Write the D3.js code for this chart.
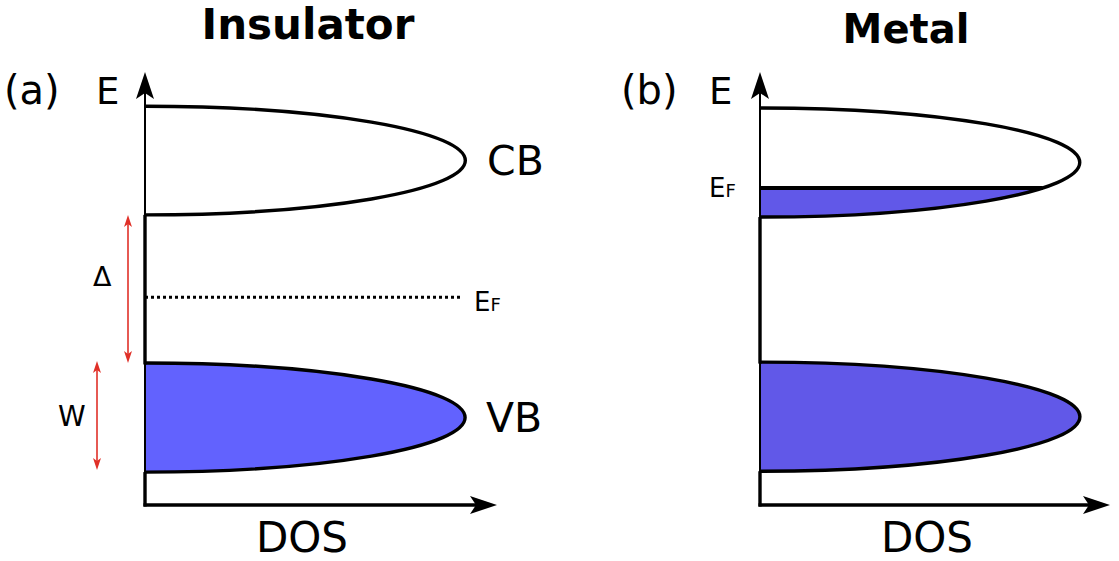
<!DOCTYPE html>
<html>
<head>
<meta charset="utf-8">
<script src="https://cdn.jsdelivr.net/npm/d3@7"></script>
<style>
  body { margin: 0; background: #fff; }
  text { font-family: "DejaVu Sans", sans-serif; }
</style>
</head>
<body>
<div id="chart"></div>
<script>
// energy axis runs 0..100, DOS axis 0..100
var panels = ["Insulator", "Metal"];
var panelTags = ["(a)", "(b)"];
var bandNames = ["VB", "CB"];
// [bottom, top] energy of each band, per panel
var insulatorBands = [[7.6, 32.8], [67.0, 92.1]];
var metalBands = [[7.8, 33.0], [66.5, 91.7]];
// maximum DOS reached by each band
var insulatorPeak = [91, 91];
var metalPeak = [91.4, 91.4];
var insulatorFermi = 48.0;
var fermiDotsEnd = 90;
var metalFermi = 73.2;

var W = 1119, H = 561;
var svg = d3.select("#chart").append("svg")
    .attr("width", W)
    .attr("height", H);

var y = d3.scaleLinear().domain([0, 100]).range([505, 72]);
var xL = d3.scaleLinear().domain([0, 100]).range([145, 497]);
var xR = d3.scaleLinear().domain([0, 100]).range([760, 1110]);

var fillL = "#6262fe", fillR = "#6158e8", red = "#e03028";

function arrowUp(x0, y0) {
    return "M" + x0 + "," + y0 + " l9,27 l-9,-6 l-9,6 z";
}
function arrowRight(x0, y0) {
    return "M" + x0 + "," + y0 + " l-27,-9 l6,9 l-6,9 z";
}
function redArrow(g, x0, y0, y1) {
    g.append("line").attr("x1", x0).attr("x2", x0).attr("y1", y0 + 4).attr("y2", y1 - 4)
        .attr("stroke", red).attr("stroke-width", 1.6);
    g.append("path").attr("d", "M" + x0 + "," + y0 + " l4,12 l-4,-3 l-4,3 z").attr("fill", red);
    g.append("path").attr("d", "M" + x0 + "," + y1 + " l4,-12 l-4,3 l-4,-3 z").attr("fill", red);
}

// half-ellipse outline of a band, open on the energy axis
function bandPath(x, band, peak) {
    var x0 = x(0), yb = y(band[0]), yt = y(band[1]);
    var rx = x(peak) - x0, ry = (yb - yt) / 2;
    return "M" + x0 + "," + yt + " A" + rx + "," + ry + " 0 0 1 " + x0 + "," + yb;
}

function drawAxes(g, x, bands) {
    var x0 = x(0);
    g.append("line").attr("x1", x0).attr("x2", x0).attr("y1", y(0)).attr("y2", y(100) + 20)
        .attr("stroke", "#000").attr("stroke-width", 2);
    // thicker axis where no band covers it
    [[0, bands[0][0]], [bands[0][1], bands[1][0]]].forEach(function (s) {
        g.append("line").attr("x1", x0).attr("x2", x0).attr("y1", y(s[0]) + 1.5).attr("y2", y(s[1]))
            .attr("stroke", "#000").attr("stroke-width", 3.4);
    });
    g.append("line").attr("x1", x0 - 1.5).attr("x2", x.range()[1] - 20).attr("y1", y(0)).attr("y2", y(0))
        .attr("stroke", "#000").attr("stroke-width", 3.4);
    g.append("path").attr("d", arrowUp(x0, y(100))).attr("fill", "#000");
    g.append("path").attr("d", arrowRight(x.range()[1], y(0))).attr("fill", "#000");
}

// ---- (a) insulator ----
var gL = svg.append("g");
gL.append("path").attr("d", bandPath(xL, insulatorBands[0], insulatorPeak[0]) + "Z")
    .attr("fill", fillL).attr("stroke", "none");
insulatorBands.forEach(function (b, i) {
    gL.append("path").attr("d", bandPath(xL, b, insulatorPeak[i]))
        .attr("fill", "none").attr("stroke", "#000").attr("stroke-width", 3.4);
});
drawAxes(gL, xL, insulatorBands);
gL.append("line").attr("x1", xL(0)).attr("x2", xL(fermiDotsEnd)).attr("y1", y(insulatorFermi)).attr("y2", y(insulatorFermi))
    .attr("stroke", "#000").attr("stroke-width", 3).attr("stroke-dasharray", "3,3");
redArrow(gL, 128, y(insulatorBands[1][0]), y(insulatorBands[0][1]));
redArrow(gL, 97, y(insulatorBands[0][1]) - 2, y(insulatorBands[0][0]) - 2);

// ---- (b) metal ----
var gR = svg.append("g");
gR.append("path").attr("d", bandPath(xR, metalBands[0], metalPeak[0]) + "Z")
    .attr("fill", fillR).attr("stroke", "none");
(function () {
    var b = metalBands[1];
    var c = (b[0] + b[1]) / 2, h = (b[1] - b[0]) / 2;
    var t = (metalFermi - c) / h;
    var xe = xR(metalPeak[1] * Math.sqrt(1 - t * t));
    var rx = xR(metalPeak[1]) - xR(0), ry = (y(b[0]) - y(b[1])) / 2;
    gR.append("path")
        .attr("d", "M" + xR(0) + "," + y(metalFermi) + " H" + xe + " A" + rx + "," + ry + " 0 0 1 " + xR(0) + "," + y(b[0]) + "Z")
        .attr("fill", fillR);
    metalBands.forEach(function (bb, i) {
        gR.append("path").attr("d", bandPath(xR, bb, metalPeak[i]))
            .attr("fill", "none").attr("stroke", "#000").attr("stroke-width", 3.4);
    });
    gR.append("line").attr("x1", xR(0)).attr("x2", xe).attr("y1", y(metalFermi)).attr("y2", y(metalFermi))
        .attr("stroke", "#000").attr("stroke-width", 4);
})();
drawAxes(gR, xR, metalBands);

// ---- labels ----
function label(txt, x0, y0, size, weight, anchor) {
    return svg.append("text").attr("x", x0).attr("y", y0).attr("font-size", size)
        .attr("font-weight", weight || "normal").attr("text-anchor", anchor || "start").text(txt);
}
label(panels[0], 308, 39, 42, "bold", "middle");
label(panels[1], 906, 43, 40, "bold", "middle");
label(panelTags[0], 4, 104, 40);
label(panelTags[1], 621, 104, 40);
label("E", 96, 104, 37);
label("E", 709, 104, 37);
label(bandNames[1], 487, 175, 41);
label(bandNames[0], 486, 432, 41);
label("DOS", 302, 552, 42, "normal", "middle");
label("DOS", 927, 552, 42, "normal", "middle");
label("Δ", 93, 286, 27);
label("W", 58, 426, 28);

function fermiLabel(x0, y0) {
    var t = svg.append("text").attr("x", x0).attr("y", y0).attr("font-size", 26);
    t.append("tspan").text("E");
    t.append("tspan").attr("font-size", 18).text("F");
}
fermiLabel(474, 311);
fermiLabel(709, 197);
</script>
</body>
</html>
